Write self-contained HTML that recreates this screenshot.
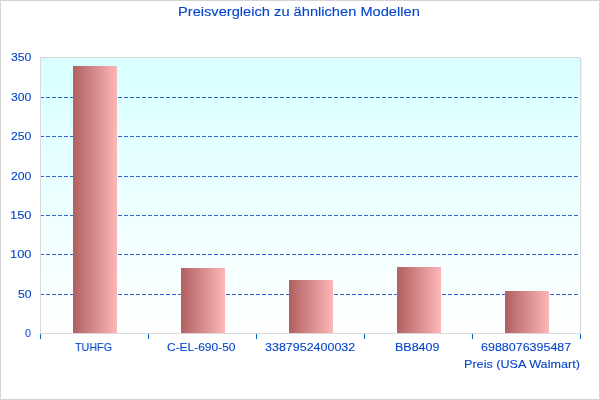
<!DOCTYPE html>
<html><head><meta charset="utf-8">
<style>
html,body{margin:0;padding:0;width:600px;height:400px;overflow:hidden;background:#fff;}
body{position:relative;font-family:"Liberation Sans",sans-serif;color:#0044cc;}
svg{position:absolute;left:0;top:0;}
.t{position:absolute;white-space:nowrap;line-height:1;transform-origin:0 0;will-change:transform;-webkit-text-stroke:0.1px #0044cc;}
</style></head><body>
<svg width="600" height="400" viewBox="0 0 600 400" shape-rendering="crispEdges">
<defs>
<linearGradient id="pg" x1="0" y1="0" x2="0" y2="1">
<stop offset="0" stop-color="#d8ffff"/>
<stop offset="1" stop-color="#ffffff"/>
</linearGradient>
<linearGradient id="bg" x1="0" y1="0" x2="1" y2="0">
<stop offset="0.01" stop-color="#b26060"/>
<stop offset="0.99" stop-color="#fcb6b6"/>
</linearGradient>
</defs>
<rect x="0" y="0" width="600" height="400" fill="#d4d4d4"/>
<rect x="1" y="1" width="598" height="398" fill="#ffffff"/>
<rect x="40" y="58" width="542" height="275" fill="url(#pg)"/>
<g stroke="#3366cc" stroke-width="1" stroke-dasharray="4 2" shape-rendering="crispEdges">
<line x1="40" y1="97.5" x2="580" y2="97.5"/><line x1="40" y1="136.5" x2="580" y2="136.5"/><line x1="40" y1="176.5" x2="580" y2="176.5"/><line x1="40" y1="215.5" x2="580" y2="215.5"/><line x1="40" y1="254.5" x2="580" y2="254.5"/><line x1="40" y1="294.5" x2="580" y2="294.5"/>
</g>
<g fill="#d9d9d9">
<rect x="40" y="57" width="541" height="1"/>
<rect x="40" y="333" width="541" height="1"/>
<rect x="40" y="57" width="1" height="277"/>
<rect x="580" y="57" width="1" height="277"/>
</g>
<g fill="url(#bg)">
<rect x="73" y="66" width="44" height="267"/><rect x="181" y="268" width="44" height="65"/><rect x="289" y="280" width="44" height="53"/><rect x="397" y="267" width="44" height="66"/><rect x="505" y="291" width="44" height="42"/>
</g>
<g fill="#0066cc">
<rect x="40" y="334" width="1" height="5"/><rect x="148" y="334" width="1" height="5"/><rect x="256" y="334" width="1" height="5"/><rect x="364" y="334" width="1" height="5"/><rect x="472" y="334" width="1" height="5"/><rect x="580" y="334" width="1" height="5"/>
</g>
</svg>
<div class="t" style="left:178.2px;top:5px;font-size:13.2px;transform:scaleX(1.1107);">Preisvergleich zu ähnlichen Modellen</div>
<div class="t" style="left:10.8px;top:51px;font-size:11.6px;transform:scaleX(1.05);">350</div>
<div class="t" style="left:10.8px;top:91px;font-size:11.6px;transform:scaleX(1.05);">300</div>
<div class="t" style="left:10.8px;top:130px;font-size:11.6px;transform:scaleX(1.0529);">250</div>
<div class="t" style="left:10.8px;top:170px;font-size:11.6px;transform:scaleX(1.0529);">200</div>
<div class="t" style="left:10.0px;top:209px;font-size:11.6px;transform:scaleX(1.1083);">150</div>
<div class="t" style="left:10.0px;top:248px;font-size:11.6px;transform:scaleX(1.1083);">100</div>
<div class="t" style="left:17.8px;top:288px;font-size:11.6px;transform:scaleX(1.05);">50</div>
<div class="t" style="left:24.8px;top:327px;font-size:11.6px;transform:scaleX(0.9115);">0</div>
<div class="t" style="left:75.0px;top:341px;font-size:11.6px;transform:scaleX(0.9257);">TUHFG</div>
<div class="t" style="left:167.0px;top:341px;font-size:11.6px;transform:scaleX(1.0308);">C-EL-690-50</div>
<div class="t" style="left:265.0px;top:341px;font-size:11.6px;transform:scaleX(1.076);">3387952400032</div>
<div class="t" style="left:395.2px;top:341px;font-size:11.6px;transform:scaleX(1.0756);">BB8409</div>
<div class="t" style="left:481.0px;top:341px;font-size:11.6px;transform:scaleX(1.0763);">6988076395487</div>
<div class="t" style="left:464.2px;top:358px;font-size:11.6px;transform:scaleX(1.0879);">Preis (USA Walmart)</div>
</body></html>
